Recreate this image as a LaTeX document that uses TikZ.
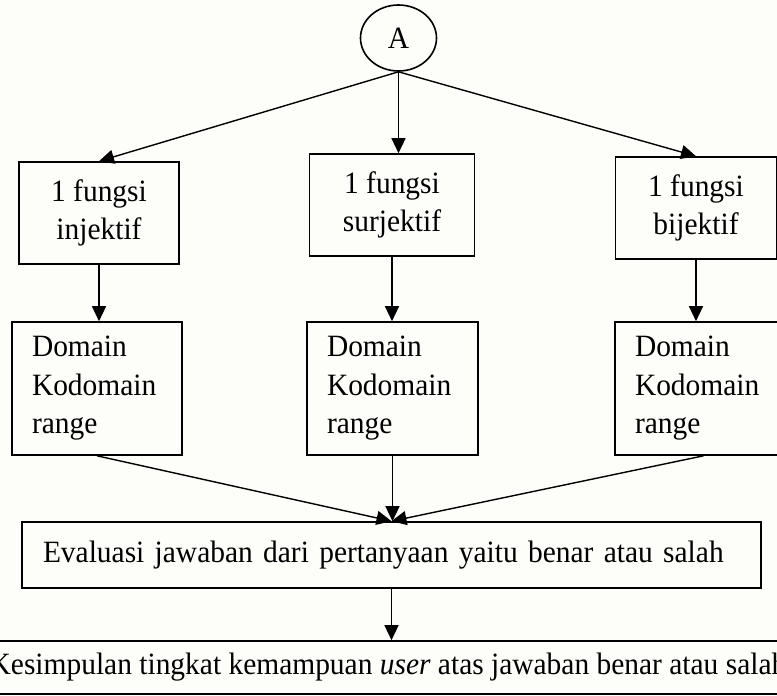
\documentclass[tikz,border=0pt]{standalone}
\usepackage{fontspec}
\setmainfont[FakeStretch=0.95]{Liberation Serif}
\usetikzlibrary{shapes.geometric,arrows.meta}
\definecolor{paper}{RGB}{253,253,250}
\tikzset{
  txt/.style={font=\fontsize{31}{38.5}\selectfont},
  box/.style={draw, line width=1.6pt, inner sep=0pt, txt},
  fnbox/.style={box, align=center, minimum height=102pt},
  listbox/.style={box, align=left, inner xsep=20pt, minimum height=133pt},
  conn/.style={line width=1.4pt, -{Triangle[length=15pt,width=14pt]}},
}
\begin{document}
\begin{tikzpicture}[x=1pt,y=-1pt]
  \fill[paper] (0,0) rectangle (777,696);
  \useasboundingbox (0,0) rectangle (777,696);
  \clip (0,0) rectangle (777,696);

  % start node
  \node[draw, ellipse, line width=1.6pt, inner sep=0pt, minimum width=76pt,
        minimum height=66pt, txt] (A) at (398.5,38) {A};

  % kinds of function
  \node[fnbox, minimum width=160pt] (b1) at (99,213)  {1 fungsi\\injektif};
  \node[fnbox, minimum width=165pt] (b2) at (392,205) {1 fungsi\\surjektif};
  \node[fnbox, minimum width=161pt] (b3) at (696,208) {1 fungsi\\bijektif};

  % domain, codomain, range
  \node[listbox, text width=130pt] (d1) at (97,388.5)  {Domain\\Kodomain\\range};
  \node[listbox, text width=131pt] (d2) at (392.5,388.5) {Domain\\Kodomain\\range};
  \node[listbox, text width=137pt] (d3) at (703.5,388.5) {Domain\\Kodomain\\range};

  % evaluation
  \node[box, align=left, inner xsep=21pt, text width=697pt, minimum height=66pt]
    (e) at (391.5,555) {Evaluasi jawaban dari pertanyaan yaitu benar atau salah};

  % conclusion (runs past both page edges)
  \node[box, minimum width=820pt, minimum height=53pt] (k) at (388,667.5)
    {Kesimpulan tingkat kemampuan \textit{user} atas jawaban benar atau salah};

  % connectors
  \draw[conn] (A.south) -- (b1.north);
  \draw[conn] (A.south) -- (A.south |- b2.north);
  \draw[conn] (A.south) -- (b3.north);

  \draw[conn] (b1.south) -- (b1.south |- d1.north);
  \draw[conn] (b2.south) -- (b2.south |- d2.north);
  \draw[conn] (b3.south) -- (b3.south |- d3.north);

  \draw[conn] (d1.south) -- (e.north);
  \draw[conn] (d2.south) -- (d2.south |- e.north);
  \draw[conn] (d3.south) -- (e.north);

  \draw[conn] (e.south) -- (e.south |- k.north);
\end{tikzpicture}
\end{document}
